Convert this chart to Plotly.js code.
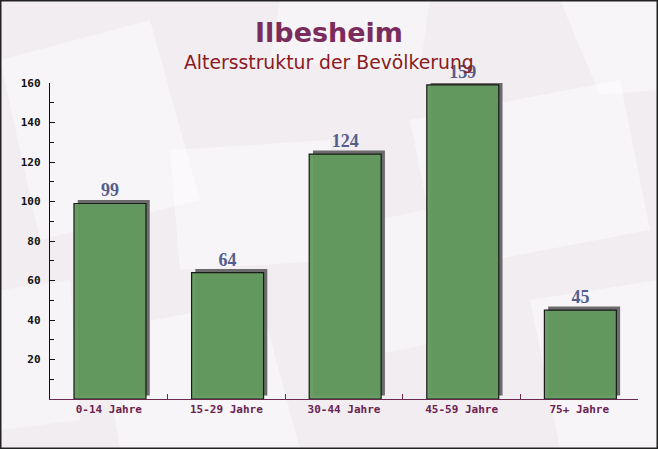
<!DOCTYPE html>
<html>
<head>
<meta charset="utf-8">
<script src="https://cdn.plot.ly/plotly-3.0.1.min.js"></script>
<style>html,body{margin:0;padding:0;background:#f3f0f2;}#chart{width:658px;height:449px;}</style>
</head>
<body>
<div id="chart"></div>
<script>
const categories = ["0-14 Jahre", "15-29 Jahre", "30-44 Jahre", "45-59 Jahre", "75+ Jahre"];
const values = [99, 64, 124, 159, 45];
const yTickValues = [20, 40, 60, 80, 100, 120, 140, 160];
const titleText = "Ilbesheim";
const subtitleText = "Altersstruktur der Bevölkerung";

const shadow = {
  type: 'bar', x: categories, y: values, base: 1.8,
  width: 0.612, offset: -0.264,
  marker: {color: '#6c6b6c', line: {width: 0}},
  hoverinfo: 'skip', showlegend: false
};
const main = {
  type: 'bar', x: categories, y: values,
  width: 0.612, offset: -0.296,
  marker: {color: 'rgba(98,154,94,0.96)', line: {color: '#1a1a1a', width: 1.2}},
  text: values.map(String), textposition: 'outside', cliponaxis: false,
  constraintext: 'none',
  textfont: {family: 'Liberation Serif, serif', size: 18, color: '#555d8c', weight: 'bold'},
  showlegend: false
};

// pixel helpers for paper coordinates (plot area 50..638 x, 83..399 y)
const px = x => (x - 50) / 588;
const py = y => (399 - y) / 316;
function quad(pts, color) {
  return {type: 'path', xref: 'paper', yref: 'paper', layer: 'below',
    path: 'M' + pts.map(p => px(p[0]) + ',' + py(p[1])).join(' L') + ' Z',
    fillcolor: color, line: {width: 0}};
}

const layout = {
  width: 658, height: 449,
  margin: {l: 50, r: 20, t: 83, b: 50},
  paper_bgcolor: '#f1edf0', plot_bgcolor: 'rgba(0,0,0,0)',
  barmode: 'overlay',
  showlegend: false,
  xaxis: {
    type: 'category', showgrid: false, zeroline: false,
    showline: true, linecolor: '#6b2a4d', linewidth: 1.2,
    ticks: 'inside', tickson: 'boundaries', ticklen: 5, tickcolor: '#6b2a4d',
    tickfont: {family: 'DejaVu Sans Mono, monospace', size: 11, color: '#6b2252', weight: 'bold'},
    range: [-0.5, 4.5]
  },
  yaxis: {
    range: [0, 160], showgrid: false, zeroline: false,
    showline: true, linecolor: '#111', linewidth: 1.2,
    tickvals: yTickValues, ticks: 'inside', ticklen: 5, tickcolor: '#111',
    minor: {dtick: 10, tick0: 10, ticks: 'inside', ticklen: 4, tickcolor: '#111'},
    ticklabelstandoff: 6,
    tickfont: {family: 'DejaVu Sans Mono, monospace', size: 11, color: '#111', weight: 'bold'}
  },
  annotations: [
    {text: titleText, xref: 'paper', x: px(329), xanchor: 'center',
     yref: 'paper', y: py(32), yanchor: 'middle', showarrow: false,
     font: {family: 'DejaVu Sans, sans-serif', size: 27, color: '#7a2c5c', weight: 'bold'}},
    {text: subtitleText, xref: 'paper', x: px(329), xanchor: 'center',
     yref: 'paper', y: py(62), yanchor: 'middle', showarrow: false,
     font: {family: 'DejaVu Sans, sans-serif', size: 18.8, color: '#8b1a22'}}
  ],
  shapes: [
    quad([[0,60],[150,20],[200,200],[40,240]], 'rgba(255,255,255,0.45)'),
    quad([[170,150],[330,140],[340,260],[180,270]], 'rgba(255,255,255,0.45)'),
    quad([[100,330],[260,300],[300,449],[120,449]], 'rgba(255,255,255,0.45)'),
    quad([[280,0],[430,0],[420,70],[270,60]], 'rgba(255,255,255,0.4)'),
    quad([[410,120],[620,80],[650,230],[440,270]], 'rgba(255,255,255,0.45)'),
    quad([[530,300],[658,280],[658,449],[560,449]], 'rgba(255,255,255,0.45)'),
    quad([[330,230],[470,200],[500,330],[350,360]], 'rgba(255,255,255,0.4)'),
    quad([[560,0],[658,0],[658,90],[600,95]], 'rgba(255,255,255,0.45)'),
    quad([[0,290],[70,280],[80,420],[0,430]], 'rgba(255,255,255,0.4)'),
    {type: 'rect', xref: 'paper', yref: 'paper',
     x0: px(0.75), x1: px(657.25), y0: py(448.25), y1: py(0.75),
     line: {color: '#222', width: 1.5}, layer: 'above'}
  ]
};

Plotly.newPlot('chart', [shadow, main], layout, {displayModeBar: false, staticPlot: true});
</script>
</body>
</html>
